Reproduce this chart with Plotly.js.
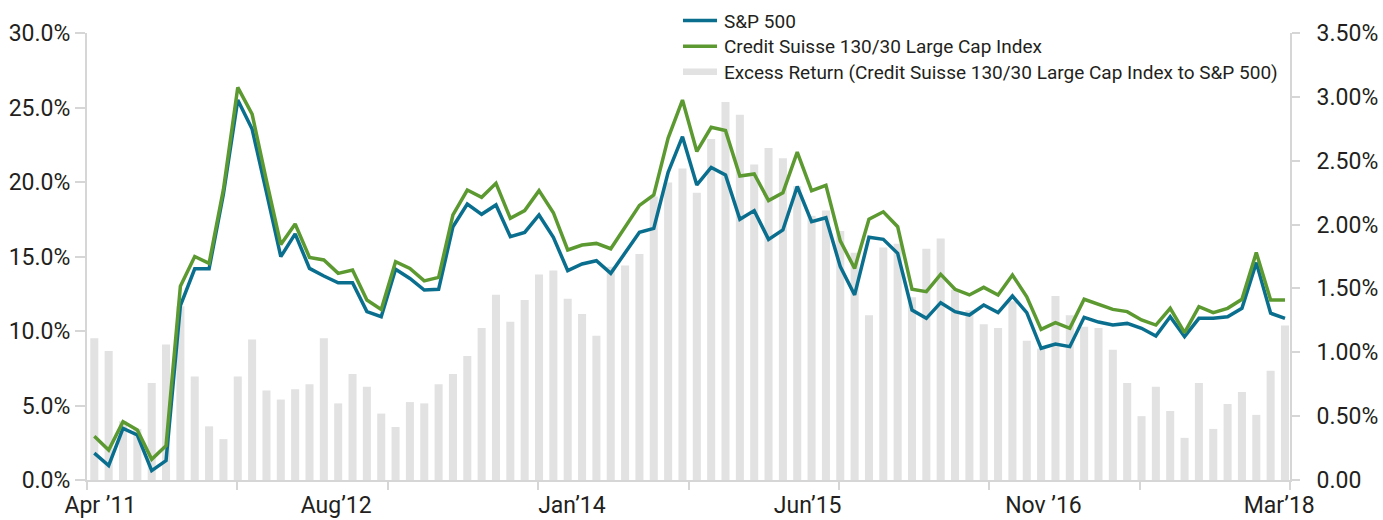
<!DOCTYPE html>
<html>
<head>
<meta charset="utf-8">
<script src="https://cdn.plot.ly/plotly-3.0.1.min.js"></script>
<style>
  html, body { margin: 0; padding: 0; background: #ffffff; }
  #chart { width: 1383px; height: 520px; }
</style>
</head>
<body>
<div id="chart"></div>
<script>
// Monthly values, Apr 2011 .. Mar 2018 (84 months)
const sp500 = [
  1.80, 0.97, 3.47, 3.02, 0.63, 1.30, 11.70, 14.17, 14.17, 19.20,
  25.50, 23.55, 19.30, 14.99, 16.52, 14.20, 13.69, 13.24, 13.24, 11.30,
  10.96, 14.14, 13.53, 12.75, 12.80, 17.00, 18.52, 17.83, 18.46, 16.33,
  16.62, 17.79, 16.29, 14.05, 14.50, 14.72, 13.87, 15.26, 16.62, 16.89,
  20.65, 23.04, 19.80, 20.98, 20.47, 17.50, 18.08, 16.15, 16.78, 19.70,
  17.34, 17.60, 14.32, 12.42, 16.29, 16.15, 15.21, 11.41, 10.85, 11.90,
  11.30, 11.07, 11.74, 11.23, 12.35, 11.23, 8.84, 9.13, 8.95, 10.92,
  10.60, 10.40, 10.51, 10.18, 9.66, 10.96, 9.62, 10.85, 10.85, 10.96,
  11.52, 14.59, 11.19, 10.85
];
const cs13030 = [
  2.93, 2.01, 3.91, 3.36, 1.39, 2.30, 13.00, 15.00, 14.54, 19.50,
  26.35, 24.56, 20.10, 15.80, 17.18, 14.94, 14.77, 13.87, 14.09, 12.08,
  11.45, 14.65, 14.20, 13.36, 13.60, 17.79, 19.46, 18.97, 19.91, 17.56,
  18.08, 19.42, 17.94, 15.44, 15.77, 15.88, 15.52, 17.00, 18.43, 19.13,
  22.95, 25.50, 22.05, 23.67, 23.45, 20.40, 20.54, 18.75, 19.28, 22.00,
  19.42, 19.78, 16.05, 14.20, 17.50, 18.00, 17.00, 12.80, 12.64, 13.80,
  12.80, 12.42, 12.93, 12.42, 13.76, 12.30, 10.11, 10.56, 10.18, 12.13,
  11.80, 11.45, 11.30, 10.74, 10.40, 11.52, 9.89, 11.63, 11.23, 11.52,
  12.13, 15.26, 12.08, 12.08
];
const excessReturn = [
  1.11, 1.01, 0.46, 0.40, 0.76, 1.06, 1.36, 0.81, 0.42, 0.32,
  0.81, 1.10, 0.70, 0.63, 0.71, 0.75, 1.11, 0.60, 0.83, 0.73,
  0.52, 0.415, 0.61, 0.60, 0.75, 0.83, 0.97, 1.19, 1.45, 1.24,
  1.41, 1.61, 1.64, 1.42, 1.30, 1.13, 1.67, 1.68, 1.77, 2.22,
  2.33, 2.44, 2.25, 2.67, 2.96, 2.86, 2.47, 2.60, 2.52, 2.30,
  2.07, 2.11, 1.95, 1.78, 1.29, 1.82, 1.85, 1.43, 1.81, 1.89,
  1.49, 1.33, 1.22, 1.19, 1.40, 1.09, 1.03, 1.44, 1.29, 1.20,
  1.19, 1.02, 0.76, 0.50, 0.73, 0.54, 0.33, 0.76, 0.40, 0.595,
  0.69, 0.51, 0.855, 1.21
];

const xTickLabels = ["Apr \u201911", "Aug\u201912", "Jan\u201914", "Jun\u201915", "Nov \u201916", "Mar\u201918"];
const leftTickValues = [0, 5, 10, 15, 20, 25, 30];
const leftTickLabels = ["0.0%", "5.0%", "10.0%", "15.0%", "20.0%", "25.0%", "30.0%"];
const rightTickValues = [0, 0.5, 1, 1.5, 2, 2.5, 3, 3.5];
const rightTickLabels = ["0.00", "0.50%", "1.00%", "1.50%", "2.00%", "2.50%", "3.00%", "3.50%"];
const seriesNames = [
  "S&P 500",
  "Credit Suisse 130/30 Large Cap Index",
  "Excess Return (Credit Suisse 130/30 Large Cap Index to S&P 500)"
];

// month index positions and names
const monthNames = ["Jan","Feb","Mar","Apr","May","Jun","Jul","Aug","Sep","Oct","Nov","Dec"];
const xIdx = sp500.map((_, i) => i);
const monthText = xIdx.map(i => { const m = 3 + i; return monthNames[m % 12] + " " + (2011 + Math.floor(m / 12)); });

// axis layout helpers (positions only)
const xMin = -0.51, xMax = 83.35;
const labelPos = xTickLabels.map((_, k) => 0.42 + k * (82.6 - 0.42) / (xTickLabels.length - 1));
const tickMarkPos = [];
for (let k = 0; k <= 8; k++) tickMarkPos.push(xMin + k * (xMax - xMin) / 8);

const FONT = "Roboto, 'Liberation Sans', sans-serif";
const TXT = "#231f20";
const AX = "#d6d6d6";
const BLUE = "#0a6f8e";
const GREEN = "#5c9a31";
const GREY = "#e2e2e2";
const TICKSIZE = 23;

const traces = [
  {
    type: "bar", x: xIdx, y: excessReturn, name: seriesNames[2], text: monthText,
    hovertemplate: "%{text}: %{y:.2f}%<extra></extra>", textposition: "none",
    marker: { color: GREY }, width: 0.56, yaxis: "y", showlegend: false
  },
  {
    type: "scatter", mode: "lines", x: xIdx, y: sp500, name: seriesNames[0], text: monthText,
    hovertemplate: "%{text}: %{y:.1f}%<extra></extra>",
    line: { color: BLUE, width: 3.5 }, yaxis: "y2", showlegend: false
  },
  {
    type: "scatter", mode: "lines", x: xIdx, y: cs13030, name: seriesNames[1], text: monthText,
    hovertemplate: "%{text}: %{y:.1f}%<extra></extra>",
    line: { color: GREEN, width: 3.5 }, yaxis: "y2", showlegend: false
  }
];

// custom legend (pixel positions converted to paper coords)
const L = 87, T = 33, W = 1383 - 87 - 93, H = 520 - 33 - 40;
const px = v => (v - L) / W;
const py = v => (T + H - v) / H;
const legendRows = [
  { y: 20.5, color: BLUE, w: 3.5 },
  { y: 46.3, color: GREEN, w: 3.5 },
  { y: 71.8, color: GREY, w: 6.5 }
];
const shapes = legendRows.map(r => ({
  type: "line", xref: "paper", yref: "paper",
  x0: px(683), x1: px(717), y0: py(r.y), y1: py(r.y),
  line: { color: r.color, width: r.w }
}));
const annotations = legendRows.map((r, i) => ({
  xref: "paper", yref: "paper", x: px(721.5), y: py(r.y + 0.5),
  xanchor: "left", yanchor: "middle", showarrow: false,
  text: seriesNames[i].replace("&", "&amp;"),
  font: { family: FONT, size: 19, color: TXT }
}));

const layout = {
  width: 1383, height: 520,
  margin: { l: L, r: 93, t: T, b: 40 },
  paper_bgcolor: "#ffffff", plot_bgcolor: "#ffffff",
  font: { family: FONT, color: TXT },
  showlegend: false,
  xaxis: {
    range: [xMin, xMax], showgrid: false, zeroline: false,
    showline: true, linecolor: AX, linewidth: 2,
    tickmode: "array", tickvals: labelPos, ticktext: xTickLabels,
    ticks: "", ticklabelstandoff: 3,
    tickfont: { family: FONT, size: TICKSIZE, color: TXT },
    minor: { tickmode: "array", tickvals: tickMarkPos, ticks: "outside", ticklen: 8, tickwidth: 1.5, tickcolor: AX, showgrid: false },
    fixedrange: true
  },
  yaxis: {
    side: "right", range: [0, 3.5], showgrid: false, zeroline: false,
    showline: true, linecolor: AX, linewidth: 2,
    tickmode: "array", tickvals: rightTickValues, ticktext: rightTickLabels,
    ticks: "outside", ticklen: 8, tickwidth: 1.5, tickcolor: AX,
    ticklabelstandoff: 12,
    tickfont: { family: FONT, size: TICKSIZE, color: TXT }, fixedrange: true
  },
  yaxis2: {
    overlaying: "y", side: "left", range: [0, 30], showgrid: false, zeroline: false,
    showline: true, linecolor: AX, linewidth: 2,
    tickmode: "array", tickvals: leftTickValues, ticktext: leftTickLabels,
    ticks: "outside", ticklen: 10, tickwidth: 1.5, tickcolor: AX,
    ticklabelstandoff: 0,
    tickfont: { family: FONT, size: TICKSIZE, color: TXT }, fixedrange: true
  },
  shapes: shapes,
  annotations: annotations
};

Plotly.newPlot("chart", traces, layout, { displayModeBar: false, responsive: false });
</script>
</body>
</html>
